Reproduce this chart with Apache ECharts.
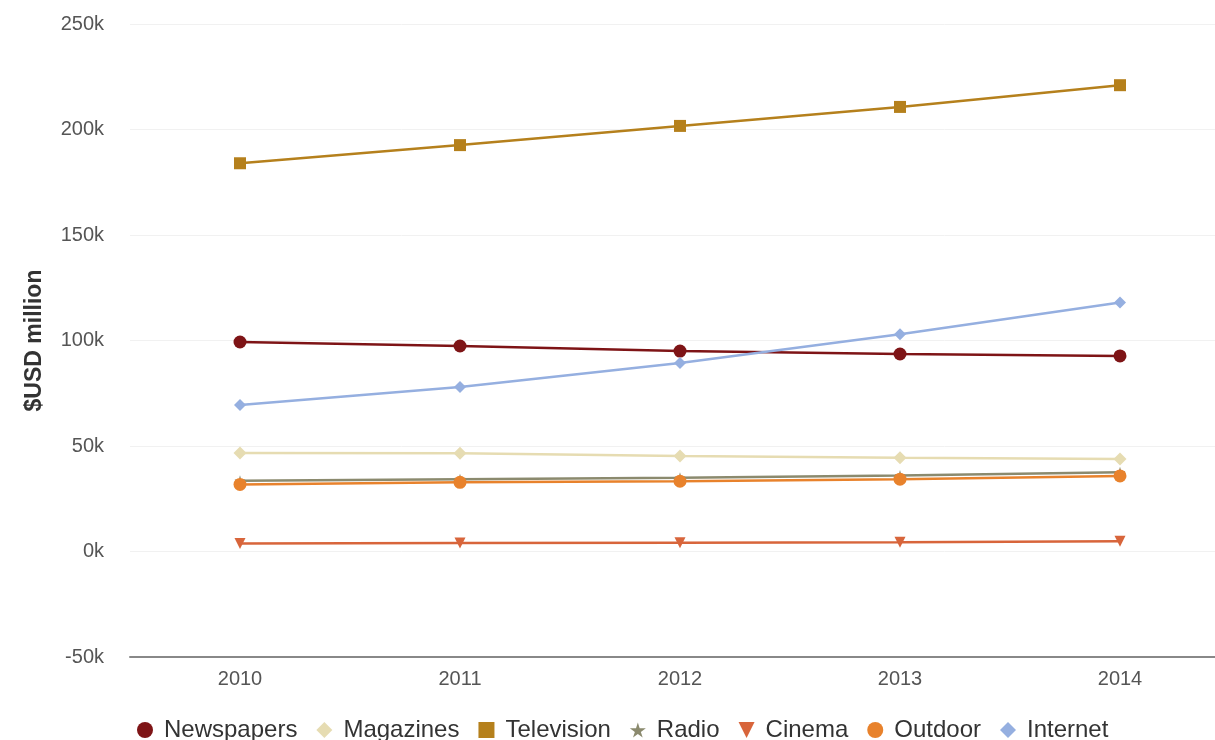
<!DOCTYPE html>
<html><head><meta charset="utf-8">
<script src="https://cdn.jsdelivr.net/npm/echarts@6/dist/echarts.min.js"></script>
<style>html,body{margin:0;padding:0;background:#fff}#c{width:1215px;height:740px}</style>
</head><body><div id="c"></div>
<script>
var years = ['2010','2011','2012','2013','2014'];
var newspapers = [99300, 97400, 95000, 93600, 92700];
var magazines  = [46700, 46600, 45300, 44400, 43800];
var television = [184000, 192600, 201700, 210700, 221000];
var radio      = [33500, 34300, 35000, 36000, 37600];
var cinema     = [3800, 4000, 4200, 4400, 4800];
var outdoor    = [31800, 32800, 33300, 34300, 35800];
var internet   = [69400, 78000, 89300, 103000, 118000];

var STAR = 'path://M50,0 L61,35 L98,35 L68,57 L79,91 L50,70 L21,91 L32,57 L2,35 L39,35 Z';
var TRI = 'path://M0,0 L10,0 L5,10 Z';

var defs = [
  {name:'Newspapers', data:newspapers, color:'#7e1416', symbol:'circle', size:13},
  {name:'Magazines', data:magazines, color:'#e6dcb2', symbol:'diamond', size:13},
  {name:'Television', data:television, color:'#b5801c', symbol:'rect', size:12},
  {name:'Radio', data:radio, color:'#8b8a6e', symbol:STAR, size:11},
  {name:'Cinema', data:cinema, color:'#d8653b', symbol:TRI, size:11},
  {name:'Outdoor', data:outdoor, color:'#e8822c', symbol:'circle', size:13},
  {name:'Internet', data:internet, color:'#95afe0', symbol:'diamond', size:12}
];

var chart = echarts.init(document.getElementById('c'));
chart.setOption({
  animation:false,
  grid:{left:130, top:24, width:1100, bottom:83, outerBoundsMode:'none', containLabel:false},
  legend:{
    top:713, left:132, itemGap:19, itemWidth:16, itemHeight:16,
    textStyle:{fontSize:24, color:'#333', fontFamily:'Liberation Sans', padding:[0,0,0,6]},
    data: defs.map(function(d){return {name:d.name, icon:d.symbol};})
  },
  xAxis:{
    type:'category', data:years, boundaryGap:true,
    axisLine:{onZero:false, lineStyle:{color:'#888', width:2}},
    axisTick:{length:5, lineStyle:{color:'#888'}},
    axisLabel:{fontSize:20, color:'#555', margin:12, fontFamily:'Liberation Sans'},
    splitLine:{show:false}
  },
  yAxis:{
    type:'value', min:-50000, max:250000, interval:50000,
    name:'$USD million', nameLocation:'middle', nameGap:84,
    nameTextStyle:{fontSize:23, fontWeight:'bold', color:'#333', fontFamily:'Liberation Sans'},
    axisLine:{show:false}, axisTick:{show:false},
    axisLabel:{fontSize:20, color:'#555', margin:26, fontFamily:'Liberation Sans',
      formatter:function(v){return (v/1000)+'k';}},
    splitLine:{lineStyle:{color:'#f1f1f1', width:1}}
  },
  series: defs.map(function(d){
    return {name:d.name, type:'line', data:d.data, symbol:d.symbol, symbolSize:d.size,
      itemStyle:{color:d.color}, lineStyle:{color:d.color, width:2.5}};
  })
});
</script></body></html>
